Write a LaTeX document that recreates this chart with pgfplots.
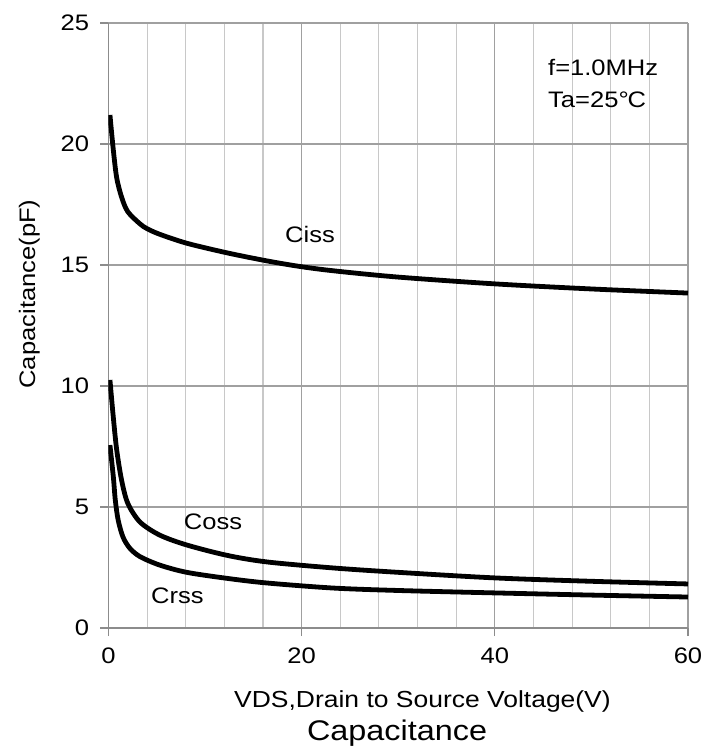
\documentclass[border=0pt]{standalone}
\usepackage{fontspec}
\setmainfont[FakeStretch=1.14]{Liberation Sans}
\usepackage{pgfplots}
\pgfplotsset{compat=1.18}
\definecolor{axgray}{HTML}{8C8C8C}
\definecolor{gridmaj}{HTML}{A0A0A0}
\definecolor{gridmin}{HTML}{C8C8C8}
\begin{document}
\begin{tikzpicture}
\begin{axis}[name=ax, scale only axis, width=579.5bp, height=605bp,
 xmin=0, xmax=60, ymin=0, ymax=25,
 xtick={0,20,40,60}, minor xtick={4,8,12,16,24,28,32,36,44,48,52,56},
 ytick={0,5,10,15,20,25},
 axis x line*=bottom, axis y line*=left,
 axis line style={draw=axgray, line width=1.3bp},
 xmajorgrids, xminorgrids, ymajorgrids,
 major grid style={draw=gridmaj, line width=1.2bp},
 minor grid style={draw=gridmin, line width=1.1bp},
 tick align=outside, major tick length=8bp, minor tick length=0pt,
 tick style={draw=axgray, line width=1.2bp},
 tick label style={font=\fontsize{22.5}{26}\selectfont},
 /pgf/number format/assume math mode=true,
 xticklabel style={yshift=-8bp, font=\fontsize{22.5}{26}\selectfont},
 yticklabel style={xshift=-8bp, font=\fontsize{22.5}{26}\selectfont},
 xlabel={VDS,Drain to Source Voltage(V)},
 ylabel={Capacitance(pF)},
 xlabel style={at={(axis description cs:0.5418,-0.1306)}, anchor=base, inner sep=0pt, font=\fontsize{23.3}{26}\selectfont},
 ylabel style={at={(axis description cs:-0.1268,0.552)}, anchor=base, inner sep=0pt, font=\fontsize{22.5}{26}\selectfont},
 title={Capacitance},
 title style={at={(axis description cs:0.498,-0.195)}, anchor=base, inner sep=0pt, font=\fontsize{28.5}{32}\selectfont},
]
\addplot[black, line width=4.8bp, smooth, tension=0.5] coordinates {
(0.15,21.2)(0.5,19.75)(0.85,18.6)(1.36,17.8)(2,17.2)(3.26,16.7)(4,16.5)(5.3,16.27)(8.1,15.9)(12.3,15.5)(16.4,15.17)(19.8,14.94)(23.3,14.76)(30,14.5)(40,14.22)(50,14.01)(60,13.84)};
\addplot[black, line width=4.8bp, smooth, tension=0.5] coordinates {
(0.15,10.25)(0.5,8.7)(0.85,7.36)(1.36,6.1)(2,5.15)(3.26,4.38)(5.3,3.84)(8.1,3.43)(12.3,3.0)(16.4,2.73)(23.3,2.48)(30,2.3)(40,2.07)(50,1.93)(60,1.82)};
\addplot[black, line width=4.8bp, smooth, tension=0.5] coordinates {
(0.15,7.56)(0.5,6.25)(0.7,5.3)(1.0,4.46)(1.5,3.76)(2.2,3.3)(3.26,2.95)(5.3,2.6)(8.1,2.3)(12.3,2.05)(16.4,1.86)(23.3,1.65)(30,1.55)(40,1.45)(50,1.36)(60,1.28)};
\node[anchor=base, inner sep=0pt, font=\fontsize{22.5}{26}\selectfont] at (axis cs:20.86,15.91) {Ciss};
\node[anchor=base, inner sep=0pt, font=\fontsize{22.5}{26}\selectfont] at (axis cs:10.82,4.09) {Coss};
\node[anchor=base, inner sep=0pt, font=\fontsize{22.5}{26}\selectfont] at (axis cs:7.14,1.03) {Crss};
\node[anchor=base west, inner sep=0pt, font=\fontsize{22.5}{26}\selectfont] at (axis cs:45.5,22.85) {f=1.0MHz};
\node[anchor=base west, inner sep=0pt, font=\fontsize{22.5}{26}\selectfont] at (axis cs:45.5,21.49) {Ta=25°\kern-0.05em C};
\end{axis}
\pgfresetboundingbox
\path[use as bounding box] ([xshift=-108.5bp,yshift=-126bp]ax.south west) rectangle ([xshift=31bp,yshift=23bp]ax.north east);
\end{tikzpicture}
\end{document}
